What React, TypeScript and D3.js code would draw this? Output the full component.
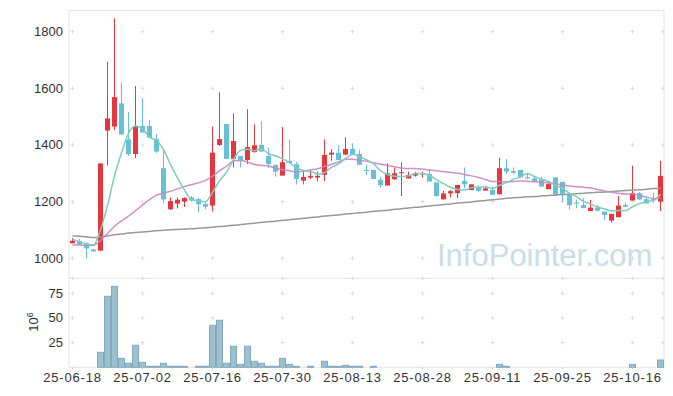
import React from "react";
import * as d3 from "d3";

const dates = [
  "25-06-18","25-06-19","25-06-20","25-06-23","25-06-24","25-06-25","25-06-26","25-06-27","25-06-30",
  "25-07-01","25-07-02","25-07-03","25-07-04","25-07-07","25-07-08","25-07-09","25-07-10","25-07-11",
  "25-07-14","25-07-15","25-07-16","25-07-17","25-07-18","25-07-21","25-07-22","25-07-23","25-07-24",
  "25-07-25","25-07-28","25-07-29","25-07-30","25-07-31",
  "25-08-01","25-08-04","25-08-05","25-08-06","25-08-07","25-08-08","25-08-11","25-08-12","25-08-13",
  "25-08-14","25-08-18","25-08-19","25-08-20","25-08-21","25-08-22","25-08-25","25-08-26","25-08-27",
  "25-08-28","25-08-29",
  "25-09-01","25-09-02","25-09-03","25-09-04","25-09-05","25-09-08","25-09-09","25-09-10","25-09-11",
  "25-09-12","25-09-15","25-09-16","25-09-17","25-09-18","25-09-19","25-09-22","25-09-23","25-09-24",
  "25-09-25","25-09-26","25-09-29","25-09-30",
  "25-10-01","25-10-02","25-10-10","25-10-13","25-10-14","25-10-15","25-10-16","25-10-17","25-10-20",
  "25-10-21","25-10-22",
];

const opens = [
  1053,1061,1053,1031,1027,1451,1465,1547,1420,1368,
  1467,1467,1421,1318,1173,1193,1200,1215,1209,1192,
  1186,1400,1474,1351,1361,1347,1375,1400,1361,1330,
  1292,1344,1332,1274,1285,1285,1295,1366,1373,1366,
  1386,1368,1312,1312,1277,1257,1279,1302,1282,1292,
  1297,1298,1268,1208,1229,1230,1273,1241,1251,1239,
  1241,1226,1318,1308,1312,1286,1282,1279,1244,1286,
  1270,1227,1197,1188,1167,1179,1165,1133,1145,1188,
  1204,1230,1209,1209,1200,
];
const highs = [
  1072,1069,1056,1034,1335,1694,1847,1621,1516,1608,
  1565,1488,1438,1380,1215,1215,1215,1220,1212,1197,
  1465,1586,1474,1512,1361,1526,1473,1484,1391,1330,
  1463,1420,1341,1312,1312,1306,1420,1386,1400,1427,
  1406,1383,1330,1312,1288,1335,1321,1339,1306,1306,
  1306,1315,1268,1238,1241,1259,1321,1261,1257,1253,
  1253,1355,1350,1321,1312,1302,1291,1288,1271,1286,
  1270,1227,1206,1212,1206,1188,1165,1157,1220,1197,
  1327,1235,1218,1232,1344,
];
const lows = [
  1053,1047,1000,1022,1027,1328,1453,1437,1362,1353,
  1444,1426,1371,1194,1171,1176,1181,1200,1162,1173,
  1165,1397,1351,1321,1321,1333,1373,1377,1318,1288,
  1292,1337,1261,1261,1280,1272,1273,1344,1347,1366,
  1365,1330,1294,1280,1250,1257,1277,1220,1282,1288,
  1285,1271,1218,1208,1215,1212,1247,1241,1235,1239,
  1224,1226,1297,1297,1286,1279,1271,1253,1244,1224,
  1200,1173,1177,1177,1167,1168,1135,1126,1145,1180,
  1204,1206,1192,1197,1167,
];
const closes = [
  1062,1049,1035,1024,1335,1494,1569,1437,1368,1465,
  1444,1426,1377,1208,1202,1207,1213,1204,1191,1182,
  1373,1421,1351,1414,1345,1393,1399,1377,1333,1306,
  1339,1337,1280,1287,1291,1291,1365,1373,1347,1386,
  1365,1330,1310,1280,1259,1300,1300,1304,1294,1298,
  1300,1271,1220,1229,1237,1259,1261,1261,1238,1247,
  1224,1318,1306,1302,1286,1282,1271,1253,1262,1224,
  1224,1188,1194,1177,1179,1168,1153,1157,1186,1182,
  1230,1208,1194,1206,1291,
];

// volume in millions of shares
const volumes = [
  0,0,0,0,15.2,72,82,9.1,4.1,22.3,
  5.1,1,1,4.1,1,1,1,0,1,1,
  42.6,47.7,4.1,21.3,3,21.3,6.1,4.1,1,1,
  9.1,3,1,0,1,0,6.1,1,1,2,
  1,1,0,1,0,0,0,0,0,0,
  0,0,0,0,0,0,0,0,0,0,
  0,3,1,0,0,0,0,0,0,0,
  0,0,0,0,0,0,0,0,0,0,
  3,0,0,0,7.4,
];

const ma5 = [
  1067,1059,1050,1047,1101,1187,1291,1372,1441,1467,
  1457,1428,1416,1384,1331,1284,1241,1207,1203,1199,
  1233,1274,1304,1348,1381,1385,1380,1386,1369,1362,
  1351,1338,1319,1310,1307,1297,1303,1321,1333,1352,
  1367,1360,1348,1334,1309,1296,1290,1289,1291,1299,
  1299,1293,1277,1264,1251,1243,1241,1249,1251,1253,
  1246,1258,1267,1279,1287,1299,1289,1279,1271,1258,
  1247,1230,1218,1201,1192,1181,1174,1167,1169,1169,
  1182,1193,1200,1204,1226,
];
const ma20 = [
  1047,1047,1046,1046,1063,1087,1113,1132,1149,1168,
  1188,1207,1223,1230,1237,1245,1253,1260,1267,1275,
  1290,1309,1325,1344,1345,1340,1331,1328,1326,1318,
  1313,1309,1304,1308,1312,1316,1324,1332,1340,1350,
  1350,1346,1343,1337,1332,1328,1323,1319,1317,1317,
  1315,1312,1309,1306,1303,1301,1296,1291,1285,1278,
  1271,1271,1270,1271,1273,1272,1270,1268,1266,1263,
  1259,1255,1253,1251,1248,1243,1238,1233,1230,1227,
  1227,1222,1216,1211,1212,
];
const ma120 = [
  1080,1078,1076,1073,1075,1079,1083,1086,1089,1091,
  1093,1095,1097,1099,1101,1102,1103,1104,1106,1108,
  1110,1112,1114,1117,1119,1122,1124,1127,1129,1131,
  1134,1136,1139,1141,1144,1146,1149,1151,1153,1156,
  1158,1161,1163,1166,1168,1170,1173,1175,1178,1180,
  1182,1185,1187,1190,1192,1195,1197,1199,1202,1204,
  1207,1209,1212,1214,1215,1217,1218,1220,1222,1223,
  1225,1226,1228,1230,1231,1233,1234,1236,1238,1239,
  1241,1242,1244,1246,1247,
];

const priceTicks = [1000, 1200, 1400, 1600, 1800];
const volumeTicks = [25, 50, 75];
const xTickLabels = [
  "25-06-18","25-07-02","25-07-16","25-07-30","25-08-13",
  "25-08-28","25-09-11","25-09-25","25-10-16",
];

const W = 673;
const H = 396;
const LEFT = 69;
const RIGHT = 664;
const TOP = 10;
const SEP = 278.3;
const BOTTOM = 367.3;

const UP = "#e8363d";
const DOWN = "#66c0d8";
const FONT = "'Liberation Sans', Arial, sans-serif";

export default function App() {
  const x = d3.scaleBand<string>().domain(dates).range([LEFT, RIGHT]);
  const bw = x.bandwidth();
  const cx = (d: string) => (x(d) as number) + bw / 2;
  const y = d3.scaleLinear().domain([929.4, 1876.6]).range([SEP, TOP]);
  const yv = d3.scaleLinear().domain([0, 90.2]).range([BOTTOM, SEP]);

  const mkLine = (vals: number[]) =>
    d3
      .line<number>()
      .x((_, i) => cx(dates[i]))
      .y((v) => y(v))
      .curve(d3.curveMonotoneX)(vals) || "";

  const gridX = [...xTickLabels.map((d) => cx(d)), RIGHT - 1];
  const gridY = [
    ...priceTicks.map((t) => y(t)),
    SEP,
    ...volumeTicks.map((t) => yv(t)),
  ];

  return (
    <svg
      width={W}
      height={H}
      style={{ position: "absolute", left: 0, top: 0, background: "#fff" }}
      fontFamily={FONT}
    >
      <rect x={0} y={0} width={W} height={H} fill="#fff" />

      {/* watermark */}
      <text
        x={437}
        y={266}
        fontSize={31}
        fill="#cadde8"
        fontFamily="'Liberation Sans', Arial, sans-serif"
      >
        InfoPointer.com
      </text>

      {/* frame */}
      <g stroke="#e4e4e4" strokeWidth={1} fill="none">
        <line x1={LEFT} x2={LEFT} y1={TOP} y2={BOTTOM} />
        <line x1={RIGHT} x2={RIGHT} y1={TOP} y2={BOTTOM} />
        <line x1={LEFT} x2={RIGHT} y1={TOP + 0.5} y2={TOP + 0.5} />
        <line x1={LEFT} x2={RIGHT} y1={SEP} y2={SEP} />
        <line x1={LEFT} x2={RIGHT} y1={BOTTOM} y2={BOTTOM} />
      </g>

      {/* grid crosses */}
      <g stroke="#dcdcdc" strokeWidth={1}>
        {gridX.map((gx, i) =>
          gridY.map((gy, j) => (
            <g key={`c${i}-${j}`}>
              <line x1={gx - 2} x2={gx + 2} y1={gy} y2={gy} />
              <line x1={gx} x2={gx} y1={gy - 2} y2={gy + 2} />
            </g>
          ))
        )}
      </g>

      {/* candles */}
      <g>
        {dates.map((d, i) => {
          const o = opens[i];
          const c = closes[i];
          const col = c >= o ? UP : DOWN;
          const yt = y(Math.max(o, c));
          const yb = y(Math.min(o, c));
          return (
            <g key={d}>
              <line
                x1={cx(d)}
                x2={cx(d)}
                y1={y(highs[i])}
                y2={y(lows[i])}
                stroke={col}
                strokeWidth={1}
              />
              <rect
                x={cx(d) - 2.5}
                y={yt}
                width={5}
                height={Math.max(1, yb - yt)}
                fill={col}
              />
            </g>
          );
        })}
      </g>

      {/* moving averages */}
      <path d={mkLine(ma120)} fill="none" stroke="#999999" strokeWidth={1.5} />
      <path d={mkLine(ma20)} fill="none" stroke="#c985c6" strokeOpacity={0.9} strokeWidth={1.5} />
      <path d={mkLine(ma5)} fill="none" stroke="#80cbbf" strokeWidth={1.5} />

      {/* volume */}
      <g>
        {dates.map((d, i) =>
          volumes[i] > 0 ? (
            <rect
              key={`v${d}`}
              x={(x(d) as number) + 0.5}
              y={yv(volumes[i])}
              width={bw - 1}
              height={BOTTOM - yv(volumes[i])}
              fill="#9cc0cf"
              stroke="#82abbe"
              strokeWidth={1}
            />
          ) : null
        )}
      </g>

      {/* y axis labels */}
      <g fontSize={13} fill="#333" textAnchor="end">
        {priceTicks.map((t) => (
          <text key={`p${t}`} x={63} y={y(t) + 4.5}>
            {t}
          </text>
        ))}
        {volumeTicks.map((t) => (
          <text key={`vt${t}`} x={63} y={yv(t) + 4.5}>
            {t}
          </text>
        ))}
      </g>
      <text
        transform={`translate(38,322) rotate(-90)`}
        fontSize={13}
        fill="#333"
        textAnchor="middle"
      >
        10
        <tspan dy={-5} fontSize={9}>
          6
        </tspan>
      </text>

      {/* x axis */}
      <g>
        {xTickLabels.map((d) => (
          <g key={`x${d}`}>
            <line x1={cx(d)} x2={cx(d)} y1={BOTTOM} y2={BOTTOM + 2} stroke="#ccc" />
            <text
              x={cx(d)}
              y={382}
              fontSize={13}
              fill="#333"
              textAnchor="middle"
              letterSpacing={0.8}
            >
              {d}
            </text>
          </g>
        ))}
      </g>
    </svg>
  );
}
